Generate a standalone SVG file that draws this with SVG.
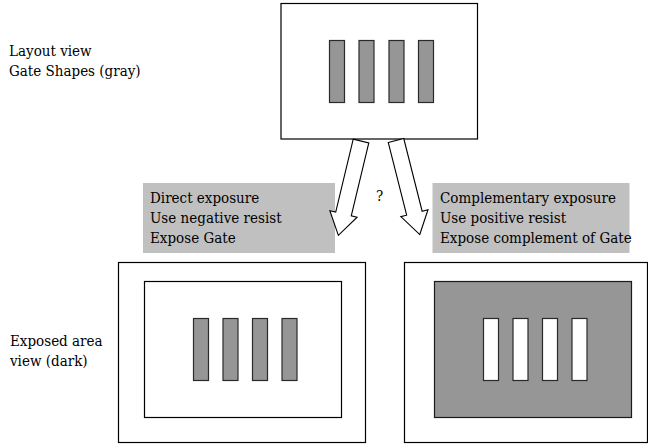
<svg xmlns="http://www.w3.org/2000/svg" width="648" height="445" viewBox="0 0 648 445">
  <style>
    .frame { fill: #ffffff; stroke: #000000; stroke-width: 1.2; }
    .gate { fill: #969696; stroke: #2a2a2a; stroke-width: 1.2; }
    .hole { fill: #ffffff; stroke: #2a2a2a; stroke-width: 1.2; }
    .dark { fill: #969696; stroke: #1a1a1a; stroke-width: 1.2; }
    .note { fill: #c0c0c0; stroke: none; }
    .arrow { fill: #ffffff; stroke: #000000; stroke-width: 1.1; stroke-linejoin: miter; }
    .label { font-family: 'DejaVu Serif Condensed', 'DejaVu Serif', serif; font-stretch: condensed; font-size: 15px; fill: #000000; }
  </style>
  <defs>
    <!-- block arrow pointing along +y, origin at the middle of its tail -->
    <polygon id="blockArrow" points="-8,0 8,0 8,75 14,75 0,97 -14,75 -8,75"/>
  </defs>

  <rect width="648" height="445" fill="#ffffff"/>

  <!-- side captions -->
  <g id="caption-layout" class="label">
    <text x="9" y="55.5">Layout view</text>
    <text x="9" y="75.5">Gate Shapes (gray)</text>
  </g>
  <g id="caption-exposed" class="label">
    <text x="10" y="345.5">Exposed area</text>
    <text x="10" y="365.5">view (dark)</text>
  </g>

  <!-- layout view with gate shapes -->
  <g id="layout-view">
    <rect class="frame" x="281" y="3.5" width="196.5" height="135.5"/>
    <rect class="gate" x="329.5" y="40.5" width="15" height="62"/>
    <rect class="gate" x="359" y="40.5" width="15" height="62"/>
    <rect class="gate" x="389" y="40.5" width="15" height="62"/>
    <rect class="gate" x="418.5" y="40.5" width="15" height="62"/>
  </g>

  <!-- process notes -->
  <g id="note-direct">
    <rect class="note" x="143" y="183" width="192" height="70"/>
    <g class="label">
      <text x="150" y="203">Direct exposure</text>
      <text x="150" y="223">Use negative resist</text>
      <text x="150" y="243">Expose Gate</text>
    </g>
  </g>
  <g id="note-complementary">
    <rect class="note" x="432.5" y="183" width="197" height="70"/>
    <g class="label">
      <text x="440" y="203">Complementary exposure</text>
      <text x="440" y="223">Use positive resist</text>
      <text x="440" y="243">Expose complement of Gate</text>
    </g>
  </g>

  <!-- connectors -->
  <g id="connectors">
    <use href="#blockArrow" class="arrow" transform="translate(361,141) rotate(13.5)"/>
    <use href="#blockArrow" class="arrow" transform="translate(396,140.5) rotate(-14.2)"/>
    <text class="label" x="376" y="201">?</text>
  </g>

  <!-- exposed area, direct exposure -->
  <g id="exposed-direct">
    <rect class="frame" x="118.5" y="262.5" width="247" height="180"/>
    <rect class="frame" x="144.5" y="281.5" width="197" height="136"/>
    <rect class="gate" x="193.5" y="318.5" width="15" height="62"/>
    <rect class="gate" x="223" y="318.5" width="15" height="62"/>
    <rect class="gate" x="252.5" y="318.5" width="15" height="62"/>
    <rect class="gate" x="282" y="318.5" width="15" height="62"/>
  </g>

  <!-- exposed area, complementary exposure -->
  <g id="exposed-complementary">
    <rect class="frame" x="404.5" y="262.5" width="243" height="180"/>
    <rect class="dark" x="434.5" y="281.5" width="197" height="136"/>
    <rect class="hole" x="483.5" y="318.5" width="15" height="62"/>
    <rect class="hole" x="513" y="318.5" width="15" height="62"/>
    <rect class="hole" x="542.5" y="318.5" width="15" height="62"/>
    <rect class="hole" x="572" y="318.5" width="15" height="62"/>
  </g>
</svg>
